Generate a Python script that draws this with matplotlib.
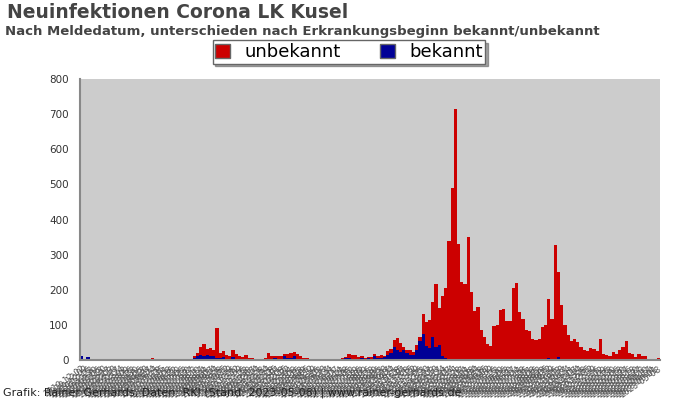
import numpy as np
import pandas as pd
import matplotlib
matplotlib.use("Agg")
import matplotlib.pyplot as plt
from matplotlib.patches import Patch

# Weekly new infections, LK Kusel
bekannt = [
    10, 3, 8, 2, 1, 1, 0, 0, 0, 0,
    0, 0, 0, 0, 0, 0, 0, 0, 0, 0,
    0, 0, 0, 1, 0, 2, 0, 0, 2, 1,
    0, 0, 0, 0, 2, 6, 10, 14, 12, 14,
    10, 12, 5, 6, 8, 4, 3, 8, 3, 2,
    2, 3, 1, 2, 2, 2, 1, 2, 4, 3,
    5, 4, 3, 11, 5, 5, 11, 3, 2, 0,
    0, 2, 2, 0, 0, 0, 2, 2, 0, 0,
    2, 3, 5, 5, 4, 2, 3, 5, 2, 5,
    4, 10, 5, 5, 8, 14, 19, 38, 28, 24,
    28, 19, 13, 13, 28, 55, 74, 40, 33, 65,
    38, 43, 10, 5, 0, 0, 0, 0, 0, 0,
    2, 0, 0, 0, 0, 0, 0, 0, 0, 0,
    0, 0, 0, 0, 0, 2, 0, 0, 0, 0,
    0, 0, 0, 0, 0, 5, 0, 0, 8, 0,
    0, 0, 0, 0, 0, 0, 0, 0, 0, 0,
    0, 0, 0, 0, 0, 0, 0, 0, 0, 0,
    0, 0, 0, 0, 0, 0, 0, 0, 0, 0,
]
unbekannt = [
    0, 0, 0, 1, 1, 0, 0, 0, 0, 0,
    0, 0, 0, 0, 0, 0, 0, 2, 0, 0,
    0, 3, 5, 2, 0, 0, 2, 0, 0, 0,
    0, 0, 1, 0, 1, 4, 11, 24, 33, 18,
    24, 16, 85, 13, 19, 10, 7, 20, 14, 9,
    6, 11, 4, 3, 0, 0, 1, 3, 17, 7,
    6, 7, 8, 6, 13, 16, 13, 14, 9, 6,
    6, 0, 0, 0, 0, 0, 0, 0, 0, 0,
    1, 3, 4, 12, 10, 12, 5, 6, 4, 3,
    4, 7, 5, 9, 2, 12, 11, 19, 35, 23,
    10, 9, 15, 11, 14, 10, 57, 69, 82, 101,
    178, 104, 172, 199, 340, 489, 715, 330, 221, 217,
    348, 193, 140, 150, 85, 65, 45, 40, 98, 100,
    142, 144, 112, 110, 206, 218, 138, 117, 85, 82,
    60, 57, 61, 93, 100, 169, 117, 328, 242, 157,
    100, 71, 55, 60, 50, 38, 28, 25, 35, 31,
    25, 60, 17, 15, 11, 22, 17, 28, 36, 54,
    20, 17, 9, 17, 11, 11, 3, 3, 3, 6,
]
wochen = pd.date_range(end="2023-05-08", periods=len(bekannt), freq="W-MON")
labels = [d.strftime("%Y-%m-%d") for d in wochen]

RED = "#cc0000"
BLUE = "#000096"

fig = plt.figure(figsize=(7, 4), dpi=100)
ax = fig.add_axes([80 / 700, 40 / 400, 580 / 700, 281 / 400])
ax.set_facecolor("#cccccc")

x = np.arange(len(bekannt))
ax.bar(x, bekannt, width=1.0, color=BLUE, linewidth=0, antialiased=False)
ax.bar(x, unbekannt, width=1.0, bottom=bekannt, color=RED, linewidth=0, antialiased=False)

ax.set_xlim(-0.5, len(x) - 0.5)
ax.set_ylim(0, 800)
ax.set_yticks(range(0, 801, 100))
ax.tick_params(axis="y", labelsize=7.5, labelcolor="#333333", length=0, pad=8)
ax.set_xticks(x)
ax.set_xticklabels(labels, rotation=35, ha="right", rotation_mode="anchor",
                   fontsize=6, color="#555555")
ax.tick_params(axis="x", length=0, pad=3)
for s in ["top", "right"]:
    ax.spines[s].set_visible(False)
for s in ["left", "bottom"]:
    ax.spines[s].set_color("#888888")
    ax.spines[s].set_linewidth(1.5)

fig.text(7 / 700, 1 - 13 / 400, "Neuinfektionen Corona LK Kusel", fontsize=13.5,
         fontweight="bold", color="#444444", va="center", ha="left")
fig.text(5 / 700, 1 - 31 / 400,
         "Nach Meldedatum, unterschieden nach Erkrankungsbeginn bekannt/unbekannt",
         fontsize=9.5, fontweight="bold", color="#444444", va="center", ha="left")

handles = [Patch(facecolor=RED, edgecolor="#666666", label="unbekannt"),
           Patch(facecolor=BLUE, edgecolor="#666666", label="bekannt")]
fig.legend(handles=handles, loc="center", bbox_to_anchor=(349 / 700, 1 - 52 / 400),
           ncol=2, fontsize=13, frameon=True, shadow=True, fancybox=False,
           edgecolor="#666666", handlelength=0.8, handleheight=0.8,
           columnspacing=2.2, borderpad=0.15, handletextpad=0.8)

fig.text(3 / 700, 1 - 393 / 400,
         "Grafik: Rainer Gerhards, Daten: RKI (Stand: 2023-05-08) | www.rainer-gerhards.de",
         fontsize=8, color="#222222", va="center", ha="left")

fig.savefig("out.png", dpi=100)
